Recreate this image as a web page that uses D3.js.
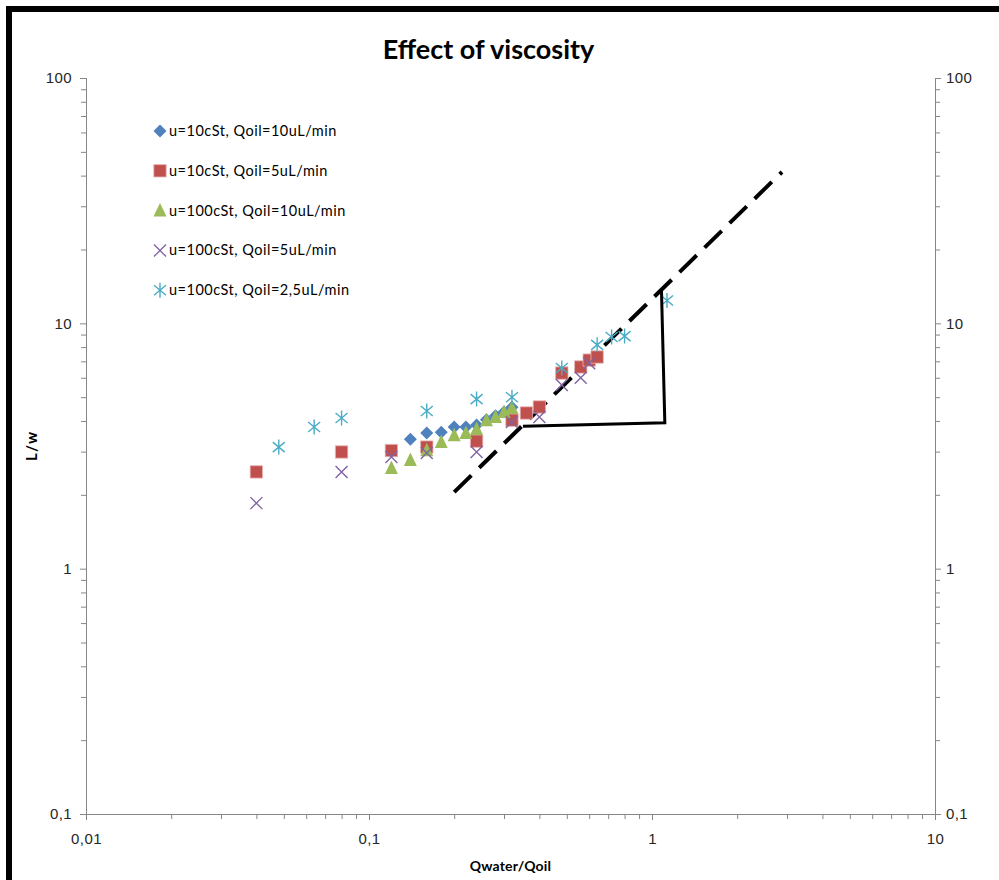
<!DOCTYPE html>
<html>
<head>
<meta charset="utf-8">
<script src="https://cdn.jsdelivr.net/npm/d3@7"></script>
<style>
  body { margin: 0; background: #fff; }
  svg { display: block; font-family: Lato, 'Open Sans', sans-serif; }
</style>
</head>
<body>
<div id="chart"></div>
<script>
// log-log axes
const xTicks = [0.01, 0.1, 1, 10]
const xTickLabels = ['0,01', '0,1', '1', '10']
const yTicks = [0.1, 1, 10, 100]
const yTickLabels = ['0,1', '1', '10', '100']

const seriesNames = [
  'u=10cSt, Qoil=10uL/min',
  'u=10cSt, Qoil=5uL/min',
  'u=100cSt, Qoil=10uL/min',
  'u=100cSt, Qoil=5uL/min',
  'u=100cSt, Qoil=2,5uL/min',
]

// u=10cSt, Qoil=10uL/min
const blueX = [0.14, 0.16, 0.18, 0.2, 0.22, 0.24, 0.26, 0.28, 0.30, 0.32]
const blueY = [3.37, 3.57, 3.6, 3.78, 3.78, 3.85, 4.05, 4.2, 4.35, 4.55]
// u=10cSt, Qoil=5uL/min
const redX = [0.04, 0.08, 0.12, 0.16, 0.24, 0.32, 0.36, 0.40, 0.48, 0.56, 0.60, 0.64]
const redY = [2.48, 2.99, 3.03, 3.13, 3.31, 4.03, 4.31, 4.56, 6.27, 6.64, 7.08, 7.29]
// u=100cSt, Qoil=10uL/min
const greenX = [0.12, 0.14, 0.16, 0.18, 0.2, 0.22, 0.24, 0.26, 0.28, 0.30, 0.32]
const greenY = [2.57, 2.77, 3.04, 3.28, 3.5, 3.57, 3.71, 4.03, 4.15, 4.35, 4.52]
// u=100cSt, Qoil=5uL/min
const purpleX = [0.04, 0.08, 0.12, 0.16, 0.24, 0.32, 0.40, 0.48, 0.56, 0.60]
const purpleY = [1.85, 2.48, 2.85, 2.96, 2.99, 3.96, 4.15, 5.6, 6.0, 6.88]
// u=100cSt, Qoil=2,5uL/min
const cyanX = [0.048, 0.064, 0.08, 0.16, 0.24, 0.32, 0.48, 0.64, 0.72, 0.80, 1.13]
const cyanY = [3.13, 3.78, 4.11, 4.39, 4.91, 5.0, 6.58, 8.17, 8.8, 8.87, 12.4]

// slope guide: dashed line + triangle
const guideX = [0.2, 2.88]
const guideY = [2.05, 41.4]
const triangleX = [0.35, 1.11, 1.08]
const triangleY = [3.81, 3.93, 13.7]

const width = 999
const height = 880
const margin = {top: 78, right: 64, bottom: 66, left: 86}

const svg = d3.select('#chart').append('svg')
  .attr('width', width)
  .attr('height', height)

// frame (only top and left show)
svg.append('line').attr('x1', 6).attr('x2', width).attr('y1', 9).attr('y2', 9)
  .attr('stroke', '#000').attr('stroke-width', 6)
svg.append('line').attr('x1', 9).attr('x2', 9).attr('y1', 6).attr('y2', height)
  .attr('stroke', '#000').attr('stroke-width', 6)

const x = d3.scaleLog()
  .domain([0.01, 10])
  .range([margin.left, width - margin.right])
const y = d3.scaleLog()
  .domain([0.1, 100])
  .range([height - margin.bottom, margin.top])

const xMinor = []
const yMinor = []
for (let d = 0.01; d < 9; d *= 10) for (let k = 2; k < 10; k++) xMinor.push(d * k)
for (let d = 0.1; d < 90; d *= 10) for (let k = 2; k < 10; k++) yMinor.push(d * k)

const axisColor = '#868686'
const labelColor = '#262626'

function styleAxis(g) {
  g.select('.domain').attr('stroke', axisColor)
  g.selectAll('.tick line').attr('stroke', axisColor)
  g.selectAll('.tick text').attr('fill', labelColor).attr('font-size', 15)
    .attr('letter-spacing', 0.4)
}

const plotBottom = height - margin.bottom
const plotRight = width - margin.right

// minor ticks
svg.append('g').attr('transform', `translate(0,${plotBottom})`)
  .call(d3.axisBottom(x).tickValues(xMinor).tickSize(5).tickFormat('')).call(styleAxis)
svg.append('g').attr('transform', `translate(${margin.left},0)`)
  .call(d3.axisLeft(y).tickValues(yMinor).tickSize(5).tickFormat('')).call(styleAxis)
svg.append('g').attr('transform', `translate(${plotRight},0)`)
  .call(d3.axisRight(y).tickValues(yMinor).tickSize(5).tickFormat('')).call(styleAxis)

// major ticks with labels
svg.append('g').attr('transform', `translate(0,${plotBottom})`)
  .call(d3.axisBottom(x).tickValues(xTicks).tickSize(6).tickPadding(13)
    .tickFormat((d, i) => xTickLabels[i])).call(styleAxis)
svg.append('g').attr('transform', `translate(${margin.left},0)`)
  .call(d3.axisLeft(y).tickValues(yTicks).tickSize(6).tickPadding(8)
    .tickFormat((d, i) => yTickLabels[i])).call(styleAxis)
svg.append('g').attr('transform', `translate(${plotRight},0)`)
  .call(d3.axisRight(y).tickValues(yTicks).tickSize(6).tickPadding(5)
    .tickFormat((d, i) => yTickLabels[i])).call(styleAxis)

// title and axis titles
svg.append('text')
  .attr('x', (margin.left + plotRight) / 2 - 22)
  .attr('y', 59)
  .attr('text-anchor', 'middle')
  .attr('font-size', 27)
  .attr('font-weight', 'bold')
  .text('Effect of viscosity')

svg.append('text')
  .attr('x', (margin.left + plotRight) / 2)
  .attr('y', 871)
  .attr('text-anchor', 'middle')
  .attr('font-size', 14)
  .attr('font-weight', 'bold')
  .attr('letter-spacing', 0.2)
  .text('Qwater/Qoil')

svg.append('text')
  .attr('transform', `translate(37,${(margin.top + plotBottom) / 2}) rotate(-90)`)
  .attr('text-anchor', 'middle')
  .attr('font-size', 15)
  .attr('font-weight', 'bold')
  .attr('letter-spacing', 1)
  .text('L/w')

// marker shapes
const diamond = {draw(c) { c.moveTo(0, -6.5); c.lineTo(6.5, 0); c.lineTo(0, 6.5); c.lineTo(-6.5, 0); c.closePath() }}
const square = {draw(c) { c.rect(-6.2, -6.2, 12.4, 12.4) }}
const triangle = {draw(c) { c.moveTo(0, -7.5); c.lineTo(6.5, 6); c.lineTo(-6.5, 6); c.closePath() }}
const cross = {draw(c) { c.moveTo(-6, -6); c.lineTo(6, 6); c.moveTo(-6, 6); c.lineTo(6, -6) }}
const star = {draw(c) {
  c.moveTo(0, -7.5); c.lineTo(0, 7.5)
  c.moveTo(-6, -5); c.lineTo(6, 5)
  c.moveTo(-6, 5); c.lineTo(6, -5)
}}

const series = [
  {name: seriesNames[0], xs: blueX, ys: blueY, color: '#4F81BD', shape: diamond, filled: true},
  {name: seriesNames[1], xs: redX, ys: redY, color: '#C0504D', shape: square, filled: true},
  {name: seriesNames[2], xs: greenX, ys: greenY, color: '#9BBB59', shape: triangle, filled: true},
  {name: seriesNames[3], xs: purpleX, ys: purpleY, color: '#8064A2', shape: cross, filled: false},
  {name: seriesNames[4], xs: cyanX, ys: cyanY, color: '#4BACC6', shape: star, filled: false},
]

function drawMarker(sel, s) {
  sel.attr('d', d3.symbol().type(s.shape))
    .attr('fill', s.filled ? s.color : 'none')
    .attr('stroke', s.filled ? (s.shape === square ? '#e8b8b6' : 'none') : s.color)
    .attr('stroke-width', s.filled ? 0.8 : 1.4)
}

// guide lines, drawn under points
const line = d3.line().x(d => x(d[0])).y(d => y(d[1]))
svg.append('path')
  .attr('d', line(guideX.map((v, i) => [v, guideY[i]])))
  .attr('fill', 'none')
  .attr('stroke', '#000')
  .attr('stroke-width', 4)
  .attr('stroke-dasharray', '24,11')

for (const s of series) {
  svg.append('g').selectAll('path')
    .data(s.xs.map((v, i) => [v, s.ys[i]]))
    .enter().append('path')
    .attr('transform', d => `translate(${x(d[0])},${y(d[1])})`)
    .call(drawMarker, s)
}

svg.append('path')
  .attr('d', line(triangleX.map((v, i) => [v, triangleY[i]])))
  .attr('fill', 'none')
  .attr('stroke', '#000')
  .attr('stroke-width', 3)
  .attr('stroke-linejoin', 'miter')

// legend
const legend = svg.append('g').attr('class', 'legend')
series.forEach(function(s, i) {
  const rowY = 131 + i * 39.8
  legend.append('path')
    .attr('transform', `translate(160,${rowY})`)
    .call(drawMarker, s)
  legend.append('text')
    .attr('x', 169)
    .attr('y', rowY + 5)
    .attr('font-size', 14.5)
    .attr('letter-spacing', 0.5)
    .attr('fill', '#000')
    .text(s.name)
})
</script>
</body>
</html>
